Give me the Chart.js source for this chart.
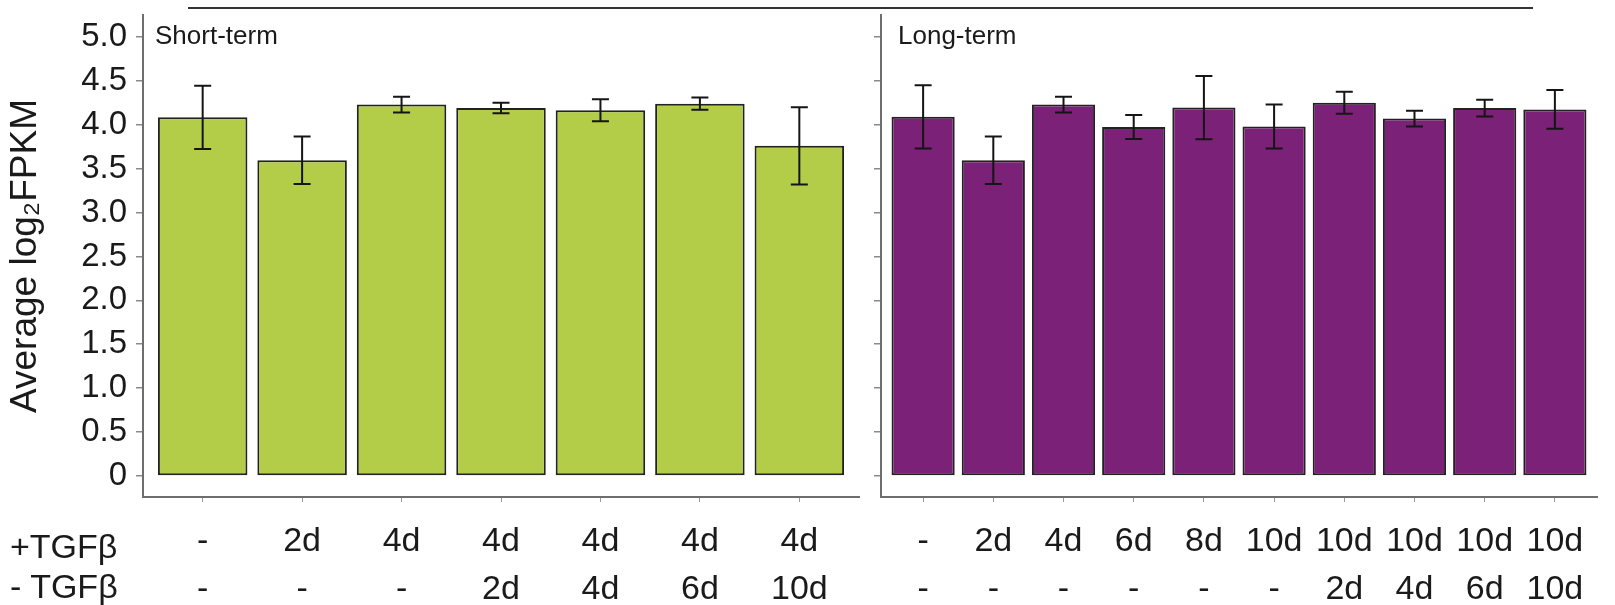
<!DOCTYPE html>
<html>
<head>
<meta charset="utf-8">
<script src="https://cdn.jsdelivr.net/npm/chart.js@4.4.1/dist/chart.umd.min.js"></script>
<style>
  html, body { margin: 0; padding: 0; background: #fff; }
  body { width: 1615px; height: 605px; position: relative; overflow: hidden;
         font-family: "Liberation Sans", Arial, sans-serif; color: #1a1a1a; }
  .panel { position: absolute; top: 0; height: 605px; }
  .panel canvas { display: block; }
  .bracket { position: absolute; left: 188px; top: 7px; width: 1345px; height: 2px; background: #333; }
  .tag { position: absolute; font-size: 26px; line-height: 1; }
  .rowlab { position: absolute; left: 10px; font-size: 34px; line-height: 1; }
</style>
</head>
<body>
<div class="bracket"></div>
<div class="panel" id="leftBox" style="left:0; width:860px;"><canvas id="shortChart"></canvas></div>
<div class="panel" id="rightBox" style="left:860px; width:755px;"><canvas id="longChart"></canvas></div>
<div class="tag" style="left:155px; top:22px;">Short-term</div>
<div class="tag" style="left:898px; top:22px;">Long-term</div>
<div class="rowlab" style="top:529px;">+TGFβ</div>
<div class="rowlab" style="top:569px;">- TGFβ</div>
<script>
// Short-term series: +TGFβ / -TGFβ durations, means and standard errors
const shortPlus  = ['-', '2d', '4d', '4d', '4d', '4d', '4d'];
const shortMinus = ['-', '-', '-', '2d', '4d', '6d', '10d'];
const shortMean  = [4.085, 3.595, 4.23, 4.19, 4.165, 4.24, 3.76];
const shortErr   = [0.36, 0.27, 0.09, 0.06, 0.125, 0.07, 0.44];

// Long-term series
const longPlus  = ['-', '2d', '4d', '6d', '8d', '10d', '10d', '10d', '10d', '10d'];
const longMinus = ['-', '-', '-', '-', '-', '-', '2d', '4d', '6d', '10d'];
const longMean  = [4.09, 3.595, 4.23, 3.975, 4.195, 3.98, 4.25, 4.07, 4.19, 4.175];
const longErr   = [0.36, 0.27, 0.09, 0.137, 0.36, 0.25, 0.125, 0.09, 0.095, 0.22];

// Y axis tick values and their printed labels
const yTickValues = [0, 0.5, 1.0, 1.5, 2.0, 2.5, 3.0, 3.5, 4.0, 4.5, 5.0];
const yTickLabels = ['0', '0.5', '1.0', '1.5', '2.0', '2.5', '3.0', '3.5', '4.0', '4.5', '5.0'];

const FONT = "'Liberation Sans', Arial, sans-serif";
const AXIS_GREY = '#6e6e6e';

// Draws mean ± SE whiskers with caps on every bar
const errorBars = {
  id: 'errorBars',
  afterDatasetsDraw(chart) {
    const ctx = chart.ctx;
    const ys = chart.scales.y;
    const meta = chart.getDatasetMeta(0);
    const ds = chart.data.datasets[0];
    ctx.save();
    ctx.strokeStyle = '#151515';
    ctx.lineWidth = 2;
    meta.data.forEach((bar, i) => {
      const v = ds.data[i].y, e = ds.err[i];
      const yHi = ys.getPixelForValue(v + e), yLo = ys.getPixelForValue(v - e);
      const x = bar.x, cap = 8.5;
      ctx.beginPath();
      ctx.moveTo(x, yHi); ctx.lineTo(x, yLo);
      ctx.moveTo(x - cap, yHi); ctx.lineTo(x + cap, yHi);
      ctx.moveTo(x - cap, yLo); ctx.lineTo(x + cap, yLo);
      ctx.stroke();
    });
    ctx.restore();
  }
};

function makePanel(canvasId, plus, minus, means, errs, fill, showYLabels, yWidth, padRight) {
  const n = means.length;
  return new Chart(document.getElementById(canvasId), {
    type: 'bar',
    data: {
      datasets: [{
        data: means.map((v, i) => ({ x: i + 1, y: v })),
        err: errs,
        backgroundColor: fill,
        borderColor: '#222',
        borderWidth: 2,
        borderSkipped: false,
        barPercentage: 0.9,
        categoryPercentage: 1.0
      }]
    },
    options: {
      responsive: true,
      maintainAspectRatio: false,
      animation: false,
      layout: { padding: { top: 15, right: padRight, left: 0, bottom: 0 } },
      plugins: { legend: { display: false }, tooltip: { enabled: false } },
      scales: {
        x: {
          type: 'linear',
          offset: false,
          min: 0.4,
          max: n + 0.6,
          afterBuildTicks: s => { s.ticks = means.map((_, i) => ({ value: i + 1 })); },
          afterFit: s => { s.height = 108; s.paddingLeft = 0; s.paddingRight = 0; },
          grid: { offset: false, drawOnChartArea: false, drawTicks: true, tickLength: 5, color: '#9a9a9a', lineWidth: 1 },
          border: { display: true, color: AXIS_GREY, width: 2 },
          ticks: {
            autoSkip: false, maxRotation: 0, minRotation: 0, padding: 15,
            color: '#1a1a1a',
            font: { family: FONT, size: 34, lineHeight: 1.42 },
            callback: v => [plus[v - 1], minus[v - 1]]
          }
        },
        y: {
          min: -0.24,
          max: 5.25,
          afterBuildTicks: s => { s.ticks = yTickValues.map(v => ({ value: v })); },
          afterFit: s => { s.width = yWidth; s.paddingTop = 0; s.paddingBottom = 0; },
          grid: { drawOnChartArea: false, drawTicks: true, tickLength: 7, color: '#8a8a8a', lineWidth: 1.5 },
          border: { display: true, color: AXIS_GREY, width: 2 },
          ticks: {
            display: showYLabels,
            padding: 9,
            color: '#1a1a1a',
            font: { family: FONT, size: 33 },
            callback: (v, i) => yTickLabels[yTickValues.indexOf(v)]
          },
          title: {
            display: showYLabels,
            text: 'Average log₂FPKM',
            color: '#1a1a1a',
            font: { family: FONT, size: 37 },
            padding: { top: 4, bottom: 0 }
          }
        }
      }
    },
    plugins: [errorBars]
  });
}

makePanel('shortChart', shortPlus, shortMinus, shortMean, shortErr, '#b4cd48', true, 143, 1);
makePanel('longChart', longPlus, longMinus, longMean, longErr, '#7b2178', false, 21, 18);
</script>
</body>
</html>
